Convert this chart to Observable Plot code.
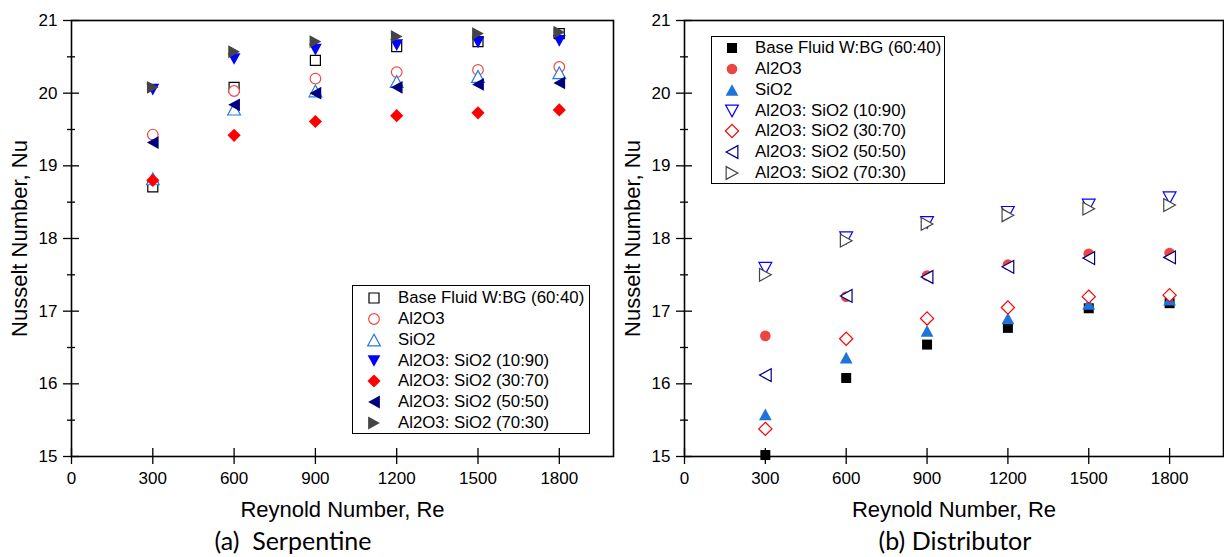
<!DOCTYPE html>
<html><head><meta charset="utf-8">
<script src="https://cdn.jsdelivr.net/npm/d3@7"></script>
<script src="https://cdn.jsdelivr.net/npm/@observablehq/plot@0.6"></script>
<style>
body{margin:0;background:#fff;}
#root{position:relative;width:1224px;height:557px;overflow:hidden;font-family:"Liberation Sans",Arial,sans-serif;background:#fff;}
.panel{position:absolute;top:0;}
.panel svg{overflow:visible;}
g[aria-label="x-axis label"] text, g[aria-label="y-axis label"] text{font-size:22px;}
.legend{position:absolute;border:1px solid #000;background:#fff;font-size:16.8px;color:#000;box-sizing:border-box;}
.row{position:absolute;height:20px;line-height:20px;white-space:nowrap;}
.row svg{position:absolute;top:0;}
.caption{position:absolute;font-family:Lato,sans-serif;font-size:25px;line-height:1;white-space:pre;transform:translateX(-50%);color:#000;}
</style>
</head><body>
<div id="root"></div>
<script>
// ---------- data ----------
const reynolds = [300, 600, 900, 1200, 1500, 1800];
const seriesNames = ["Base Fluid W:BG (60:40)", "Al2O3", "SiO2", "Al2O3: SiO2 (10:90)", "Al2O3: SiO2 (30:70)", "Al2O3: SiO2 (50:50)", "Al2O3: SiO2 (70:30)"];

// (a) Serpentine
const serpBase  = [18.71, 20.08, 20.45, 20.64, 20.71, 20.82];
const serpAl2O3 = [19.43, 20.03, 20.20, 20.29, 20.32, 20.36];
const serpSiO2  = [18.82, 19.78, 20.03, 20.16, 20.23, 20.28];
const serp1090  = [20.05, 20.47, 20.60, 20.66, 20.70, 20.72];
const serp3070  = [18.80, 19.42, 19.61, 19.69, 19.73, 19.77];
const serp5050  = [19.32, 19.84, 20.00, 20.08, 20.12, 20.14];
const serp7030  = [20.08, 20.57, 20.71, 20.78, 20.82, 20.84];

// (b) Distributor
const distBase  = [15.02, 16.08, 16.54, 16.77, 17.04, 17.11];
const distAl2O3 = [16.66, 17.20, 17.49, 17.64, 17.79, 17.80];
const distSiO2  = [15.58, 16.36, 16.73, 16.90, 17.10, 17.16];
const dist1090  = [17.59, 18.01, 18.22, 18.36, 18.46, 18.56];
const dist3070  = [15.38, 16.62, 16.90, 17.05, 17.20, 17.22];
const dist5050  = [16.12, 17.21, 17.47, 17.61, 17.73, 17.74];
const dist7030  = [17.50, 17.97, 18.20, 18.32, 18.41, 18.46];

const xTicks = [0, 300, 600, 900, 1200, 1500, 1800];
const yTicks = [15, 16, 17, 18, 19, 20, 21];
const yMinorTicks = [15.5, 16.5, 17.5, 18.5, 19.5, 20.5];
const xLabel = "Reynold Number, Re";
const yLabel = "Nusselt Number, Nu";
const captions = ["(a)  Serpentine", "(b) Distributor"];

// ---------- symbols ----------
const mk = f => ({draw(c, size){ f(c, Math.sqrt(size)); }});
const SYM = {
  square: mk((c,s)=>{const h=0.47*s; c.moveTo(-h,-h); c.lineTo(h,-h); c.lineTo(h,h); c.lineTo(-h,h); c.closePath();}),
  circle: mk((c,s)=>{const r=0.5*s; c.moveTo(r,0); c.arc(0,0,r,0,2*Math.PI); c.closePath();}),
  up:     mk((c,s)=>{const w=0.6*s,h=0.55*s; c.moveTo(0,-h); c.lineTo(w,h); c.lineTo(-w,h); c.closePath();}),
  down:   mk((c,s)=>{const w=0.6*s,h=0.55*s; c.moveTo(0,h); c.lineTo(w,-h); c.lineTo(-w,-h); c.closePath();}),
  left:   mk((c,s)=>{const w=0.55*s,h=0.6*s; c.moveTo(-w,0); c.lineTo(w,-h); c.lineTo(w,h); c.closePath();}),
  right:  mk((c,s)=>{const w=0.55*s,h=0.6*s; c.moveTo(w,0); c.lineTo(-w,-h); c.lineTo(-w,h); c.closePath();}),
  diamond:mk((c,s)=>{const d=0.62*s; c.moveTo(0,-d); c.lineTo(d,0); c.lineTo(0,d); c.lineTo(-d,0); c.closePath();})
};
const R = 6;

const leftStyles = [
  {sym:"square", fill:"white", stroke:"#000000"},
  {sym:"circle", fill:"white", stroke:"#f04848"},
  {sym:"up", fill:"white", stroke:"#2a78e0"},
  {sym:"down", fill:"#0000ff", stroke:"none"},
  {sym:"diamond", fill:"#ff0000", stroke:"none"},
  {sym:"left", fill:"#000080", stroke:"none"},
  {sym:"right", fill:"#444444", stroke:"none"}
];
const rightStyles = [
  {sym:"square", fill:"#000000", stroke:"none"},
  {sym:"circle", fill:"#ee4444", stroke:"none"},
  {sym:"up", fill:"#1f74dc", stroke:"none"},
  {sym:"down", fill:"white", stroke:"#0000ff"},
  {sym:"diamond", fill:"white", stroke:"#ff0000"},
  {sym:"left", fill:"white", stroke:"#000080"},
  {sym:"right", fill:"white", stroke:"#444444"}
];

const serpSeries = [serpBase, serpAl2O3, serpSiO2, serp1090, serp3070, serp5050, serp7030];
const distSeries = [distBase, distAl2O3, distSiO2, dist1090, dist3070, dist5050, dist7030];

const fmt = d => String(d);

function makePanel(series, styles, width, mLeft, mRight){
  const marks = [
    Plot.frame({stroke:"#000", strokeWidth:1.6}),
    Plot.axisX({ticks:xTicks, tickSize:8, tickPadding:7, strokeWidth:1.3, tickFormat:fmt, label:xLabel, labelAnchor:"center", labelOffset:60, labelArrow:"none"}),
    Plot.axisX({ticks:xTicks, tickSize:-8, strokeWidth:1.3, tickFormat:()=>"", label:null}),
    Plot.axisY({ticks:yTicks, tickSize:8, tickPadding:6, strokeWidth:1.3, tickFormat:fmt, label:yLabel, labelAnchor:"center", labelOffset:60, labelArrow:"none"}),
    Plot.axisY({ticks:yTicks, tickSize:-8, strokeWidth:1.3, tickFormat:()=>"", label:null}),
    Plot.axisY({ticks:yMinorTicks, tickSize:4, strokeWidth:1.3, tickFormat:()=>"", label:null}),
    Plot.axisY({ticks:yMinorTicks, tickSize:-4, strokeWidth:1.3, tickFormat:()=>"", label:null})
  ];
  series.forEach((vals, i) => {
    const st = styles[i];
    const data = reynolds.map((re, j) => ({re, nu: vals[j], series: seriesNames[i]}));
    marks.push(Plot.dot(data, {x:"re", y:"nu", symbol:SYM[st.sym], r:R, fill:st.fill, stroke:st.stroke, strokeWidth:1.2}));
  });
  return Plot.plot({
    width, height:527,
    marginLeft:mLeft, marginRight:mRight, marginTop:20, marginBottom:71,
    x:{domain:[0,2000]},
    y:{domain:[15,21]},
    style:{fontFamily:'"Liberation Sans", Arial, sans-serif', fontSize:"17px", color:"#000", background:"transparent"},
    marks
  });
}

function makeLegend(styles, left, top, w, h, rowTop, symX, textX){
  const box = document.createElement("div");
  box.className = "legend";
  Object.assign(box.style, {left:left+"px", top:top+"px", width:w+"px", height:h+"px"});
  seriesNames.forEach((name, i) => {
    const st = styles[i];
    const row = document.createElement("div");
    row.className = "row";
    row.style.top = (rowTop + i*20.85 - 10) + "px";
    row.style.left = "0px";
    row.style.width = (w-2) + "px";
    const path = d3.symbol(SYM[st.sym], Math.PI*R*R)();
    row.innerHTML = `<svg width="20" height="20" style="left:${symX-10}px"><path transform="translate(10,10)" d="${path}" fill="${st.fill}" stroke="${st.stroke}" stroke-width="1.2"/></svg><span style="position:absolute;left:${textX}px">${name}</span>`;
    box.appendChild(row);
  });
  return box;
}

const root = document.getElementById("root");
const p1 = document.createElement("div"); p1.className="panel"; p1.style.left="0px";
p1.appendChild(makePanel(serpSeries, leftStyles, 614, 71, 1));
root.appendChild(p1);
const p2 = document.createElement("div"); p2.className="panel"; p2.style.left="612px";
p2.appendChild(makePanel(distSeries, rightStyles, 612, 72, 1));
root.appendChild(p2);

root.appendChild(makeLegend(leftStyles, 352, 285, 238, 149, 12, 21, 45));
root.appendChild(makeLegend(rightStyles, 711, 36, 234, 148, 11, 20, 43));

[[captions[0], 293], [captions[1], 955]].forEach(([t, cx]) => {
  const d = document.createElement("div");
  d.className = "caption";
  d.textContent = t;
  d.style.left = cx + "px";
  d.style.top = "528px";
  root.appendChild(d);
});
</script>
</body></html>
